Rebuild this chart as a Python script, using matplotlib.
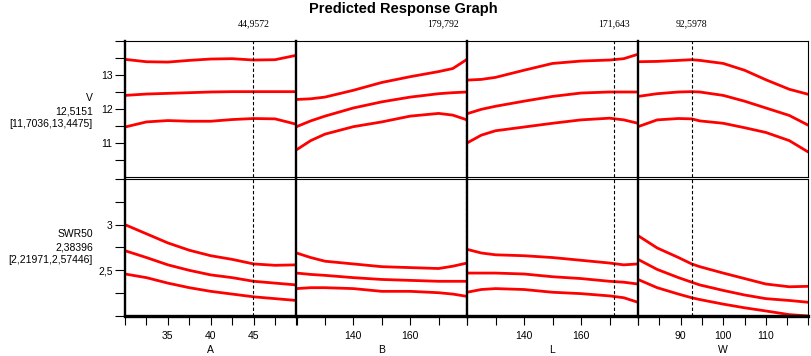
import matplotlib
matplotlib.use('Agg')
import matplotlib.pyplot as plt

# Factor settings (x values) for each column
a_x = [30, 32.5, 35, 37.5, 40, 42.5, 45, 47.5, 50]
b_x = [120, 125, 130, 140, 150, 160, 170, 175, 180]
l_x = [120, 125, 130, 140, 150, 160, 170, 175, 180]
w_x = [80, 84.5, 89.5, 92.6, 94.5, 100, 105, 110, 115.5, 120]

# Response V: upper limit, prediction, lower limit
v_a_hi = [13.46, 13.39, 13.38, 13.43, 13.47, 13.48, 13.44, 13.45, 13.58]
v_a_mid = [12.40, 12.44, 12.46, 12.48, 12.50, 12.51, 12.51, 12.51, 12.51]
v_a_lo = [11.47, 11.62, 11.66, 11.64, 11.64, 11.69, 11.72, 11.71, 11.55]
v_b_hi = [12.28, 12.30, 12.35, 12.55, 12.78, 12.95, 13.10, 13.19, 13.46]
v_b_mid = [11.48, 11.65, 11.79, 12.03, 12.21, 12.35, 12.45, 12.48, 12.50]
v_b_lo = [10.80, 11.07, 11.26, 11.48, 11.62, 11.79, 11.87, 11.82, 11.68]
v_l_hi = [12.85, 12.87, 12.93, 13.14, 13.34, 13.41, 13.44, 13.48, 13.61]
v_l_mid = [11.86, 11.99, 12.08, 12.23, 12.37, 12.47, 12.50, 12.50, 12.50]
v_l_lo = [11.00, 11.23, 11.36, 11.47, 11.58, 11.68, 11.73, 11.68, 11.58]
v_w_hi = [13.39, 13.40, 13.43, 13.45, 13.43, 13.34, 13.14, 12.86, 12.58, 12.43]
v_w_mid = [12.37, 12.45, 12.50, 12.51, 12.50, 12.40, 12.23, 12.03, 11.81, 11.52]
v_w_lo = [11.48, 11.68, 11.72, 11.71, 11.65, 11.58, 11.45, 11.31, 11.07, 10.73]

# Response SWR50: upper limit, prediction, lower limit
s_a_hi = [3.00, 2.90, 2.80, 2.72, 2.66, 2.62, 2.57, 2.555, 2.56]
s_a_mid = [2.715, 2.64, 2.56, 2.50, 2.45, 2.42, 2.38, 2.36, 2.34]
s_a_lo = [2.46, 2.42, 2.36, 2.31, 2.27, 2.24, 2.21, 2.19, 2.17]
s_b_hi = [2.69, 2.64, 2.60, 2.57, 2.54, 2.53, 2.52, 2.545, 2.58]
s_b_mid = [2.47, 2.455, 2.445, 2.42, 2.40, 2.39, 2.38, 2.38, 2.38]
s_b_lo = [2.30, 2.31, 2.31, 2.30, 2.27, 2.27, 2.255, 2.24, 2.215]
s_l_hi = [2.73, 2.69, 2.67, 2.66, 2.64, 2.61, 2.58, 2.56, 2.57]
s_l_mid = [2.47, 2.47, 2.47, 2.46, 2.43, 2.41, 2.38, 2.37, 2.35]
s_l_lo = [2.26, 2.29, 2.30, 2.29, 2.26, 2.245, 2.22, 2.20, 2.15]
s_w_hi = [2.88, 2.745, 2.64, 2.57, 2.54, 2.47, 2.41, 2.35, 2.32, 2.325]
s_w_mid = [2.62, 2.51, 2.42, 2.37, 2.34, 2.28, 2.23, 2.19, 2.17, 2.15]
s_w_lo = [2.40, 2.31, 2.24, 2.20, 2.18, 2.13, 2.09, 2.055, 2.015, 2.00]

factors = ['A', 'B', 'L', 'W']
current = [44.9572, 179.792, 171.643, 92.5978]
current_labels = ['44,9572', '179,792', '171,643', '92,5978']
x_ranges = [(30, 50), (120, 180), (120, 180), (80, 120)]
x_ticks = [[30, 32.5, 35, 37.5, 40, 42.5, 45, 47.5, 50],
           [120, 130, 140, 150, 160, 170, 180],
           [120, 130, 140, 150, 160, 170, 180],
           [80, 85, 90, 95, 100, 105, 110, 115, 120]]
x_tick_labels = [['', '', '35', '', '40', '', '45', '', ''],
                 ['', '', '140', '', '160', '', ''],
                 ['', '', '140', '', '160', '', ''],
                 ['', '', '90', '', '100', '', '110', '', '']]

responses = ['V', 'SWR50']
resp_labels = ['V\n12,5151\n[11,7036,13,4475]', 'SWR50\n2,38396\n[2,21971,2,57446]']
y_ranges = [(10, 14), (2.0, 3.5)]
y_ticks = [[10.5, 11, 11.5, 12, 12.5, 13, 13.5, 14],
           [2.0, 2.25, 2.5, 2.75, 3.0, 3.25, 3.5]]
y_tick_labels = [['', '11', '', '12', '', '13', '', ''],
                 ['', '', '2,5', '', '3', '', '']]

xs = [a_x, b_x, l_x, w_x]
curves = [
    [(v_a_hi, v_a_mid, v_a_lo), (v_b_hi, v_b_mid, v_b_lo),
     (v_l_hi, v_l_mid, v_l_lo), (v_w_hi, v_w_mid, v_w_lo)],
    [(s_a_hi, s_a_mid, s_a_lo), (s_b_hi, s_b_mid, s_b_lo),
     (s_l_hi, s_l_mid, s_l_lo), (s_w_hi, s_w_mid, s_w_lo)],
]

plt.rcParams['font.family'] = ['Liberation Sans', 'DejaVu Sans']

W, H = 812, 356
fig = plt.figure(figsize=(W / 100, H / 100), dpi=100)


def box(x0, y0, x1, y1):
    return [x0 / W, 1 - y1 / H, (x1 - x0) / W, (y1 - y0) / H]


col_edges = [125, 296.5, 467, 638, 808.5]
row_edges = [(41, 177), (179, 316)]

for r in range(2):
    for c in range(4):
        ax = fig.add_axes(box(col_edges[c], row_edges[r][0], col_edges[c + 1], row_edges[r][1]))
        for ys in curves[r][c]:
            ax.plot(xs[c], ys, color='#ff0000', lw=2.0, solid_capstyle='butt')
        ax.axvline(current[c], color='black', lw=0.8, ls=(0, (3, 2)))
        ax.set_xlim(*x_ranges[c])
        ax.set_ylim(*y_ranges[r])

        for side in ['top', 'bottom', 'left', 'right']:
            ax.spines[side].set_linewidth(0.8)
        ax.spines['left'].set_linewidth(1.7)
        if c < 3:
            ax.spines['right'].set_visible(False)
        if r == 1:
            ax.spines['bottom'].set_linewidth(2.4)

        if c == 0:
            ax.set_yticks(y_ticks[r])
            ax.set_yticklabels(y_tick_labels[r])
            ax.tick_params(axis='y', direction='out', length=7, width=0.8,
                           pad=2, labelsize=7.5)
            fig.text(93 / W, 1 - (111 if r == 0 else 247) / H, resp_labels[r],
                     ha='right', va='center', fontsize=7.5, linespacing=1.35)
        else:
            ax.set_yticks([])

        if r == 1:
            ax.set_xticks(x_ticks[c])
            ax.set_xticklabels(x_tick_labels[c])
            ax.tick_params(axis='x', direction='out', length=6.5, width=0.8,
                           pad=4, labelsize=7.5)
            ax.set_xlabel(factors[c], fontsize=7.5, labelpad=3)
        else:
            ax.set_xticks([])
            lx = current[c]
            ha = 'center'
            if c == 1:
                lx = x_ranges[c][1] - 3
                ha = 'right'
            ax.text(lx, 1.13, current_labels[c], transform=ax.get_xaxis_transform(),
                    ha=ha, va='center', fontsize=7, family='Liberation Serif')

fig.text(403 / W, 1 - 9 / H, 'Predicted Response Graph', ha='center', va='center',
         fontsize=10.5, fontweight='bold')

fig.savefig('out.png', dpi=100)
